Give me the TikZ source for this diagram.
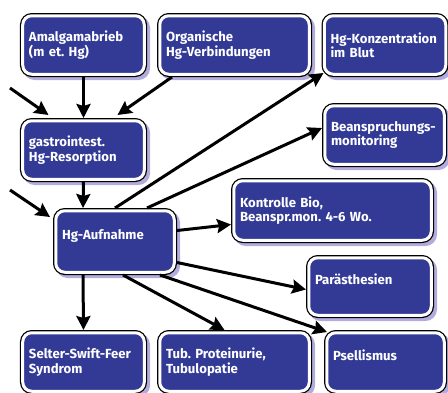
\documentclass[tikz,border=0pt]{standalone}
\usepackage{fontspec}
\setmainfont{Fira Sans}
\frenchspacing
\definecolor{hgblue}{RGB}{50, 58, 150}
\definecolor{hgshadow}{RGB}{178, 172, 220}
\usetikzlibrary{arrows.meta, positioning, calc}

\begin{document}
\begin{tikzpicture}[x=1bp, y=-1bp,
  kasten/.style={rectangle, rounded corners=9bp, fill=hgblue, draw=white, line width=3bp,
    preaction={fill=hgshadow, draw=hgshadow, line width=5.5bp, transform canvas={shift={(3bp,-3bp)}}},
    preaction={draw=black, line width=5.5bp},
    text=white, font=\fontsize{13.2}{14.5}\selectfont\bfseries, align=left,
    inner xsep=6.25bp, inner ysep=2bp, outer sep=2.75bp, text width=#1, minimum height=58.5bp},
  pfeil/.style={line width=3bp, -{Stealth[length=14bp, width=14bp, inset=2bp]}}]
  \path[use as bounding box, clip] (0,0) rectangle (448,392);

  \node[kasten=109bp] (amalgam) at (83.5,45) {Amalgamabrieb\\(m et. Hg)};
  \node[kasten=137bp] (organisch) at (234.5,45) {Organische\\Hg-Verbindungen};
  \node[kasten=109bp] (blut) at (385,45) {Hg-Konzentration\\im Blut};
  \node[kasten=109bp] (gastro) at (83.5,150) {gastrointest.\\Hg-Resorption};
  \node[kasten=106bp, minimum height=61.5bp] (aufnahme) at (115,241.5) {Hg-Aufnahme\\\mbox{}};
  \node[kasten=107bp] (monitoring) at (384.5,135) {Beanspruchungs-\\monitoring};
  \node[kasten=185bp, minimum height=59.5bp] (kontrolle) at (332.5,210.5) {Kontrolle Bio,\\Beanspr.mon. 4-6 Wo.};
  \node[kasten=110bp, minimum height=57.5bp] (paraesth) at (370,286.5) {Parästhesien\\\mbox{}};
  \node[kasten=105bp] (psellismus) at (385.5,362) {Psellismus\\\mbox{}};
  \node[kasten=109bp] (selter) at (83.5,362) {Selter-Swift-Feer\\Syndrom};
  \node[kasten=137bp] (tubulo) at (234.5,362) {Tub. Proteinurie,\\Tubulopatie};

  \coordinate (links1) at (10,88);
  \coordinate (links2) at (10,190);

  \draw[pfeil] (links1) -- ([xshift=-35bp, yshift=3bp]gastro.north);
  \draw[pfeil] (amalgam.south) -- (gastro.north);
  \draw[pfeil] ([xshift=15bp]organisch.south west) -- ([xshift=34bp, yshift=3bp]gastro.north);
  \draw[pfeil] (links2) -- ([xshift=-3bp, yshift=-9bp]aufnahme.north west);
  \draw[pfeil] (gastro.south) -- ([xshift=-32bp]aufnahme.north);
  \draw[pfeil] (aufnahme.north) -- ([xshift=2bp, yshift=4bp]blut.south west);
  \draw[pfeil] ([xshift=32bp]aufnahme.north) -- ([yshift=7bp]monitoring.west);
  \draw[pfeil] ([yshift=11bp]aufnahme.east) -- ([yshift=-14bp]kontrolle.west);
  \draw[pfeil] ([yshift=-21bp]aufnahme.east) -- ([yshift=-3bp]paraesth.west);
  \draw[pfeil] ([xshift=45bp]aufnahme.south) -- ([xshift=3bp, yshift=-2bp]psellismus.north west);
  \draw[pfeil] ([xshift=8bp]aufnahme.south) -- ([xshift=-10bp]tubulo.north);
  \draw[pfeil] ([xshift=-32bp]aufnahme.south) -- (selter.north);
\end{tikzpicture}
\end{document}
